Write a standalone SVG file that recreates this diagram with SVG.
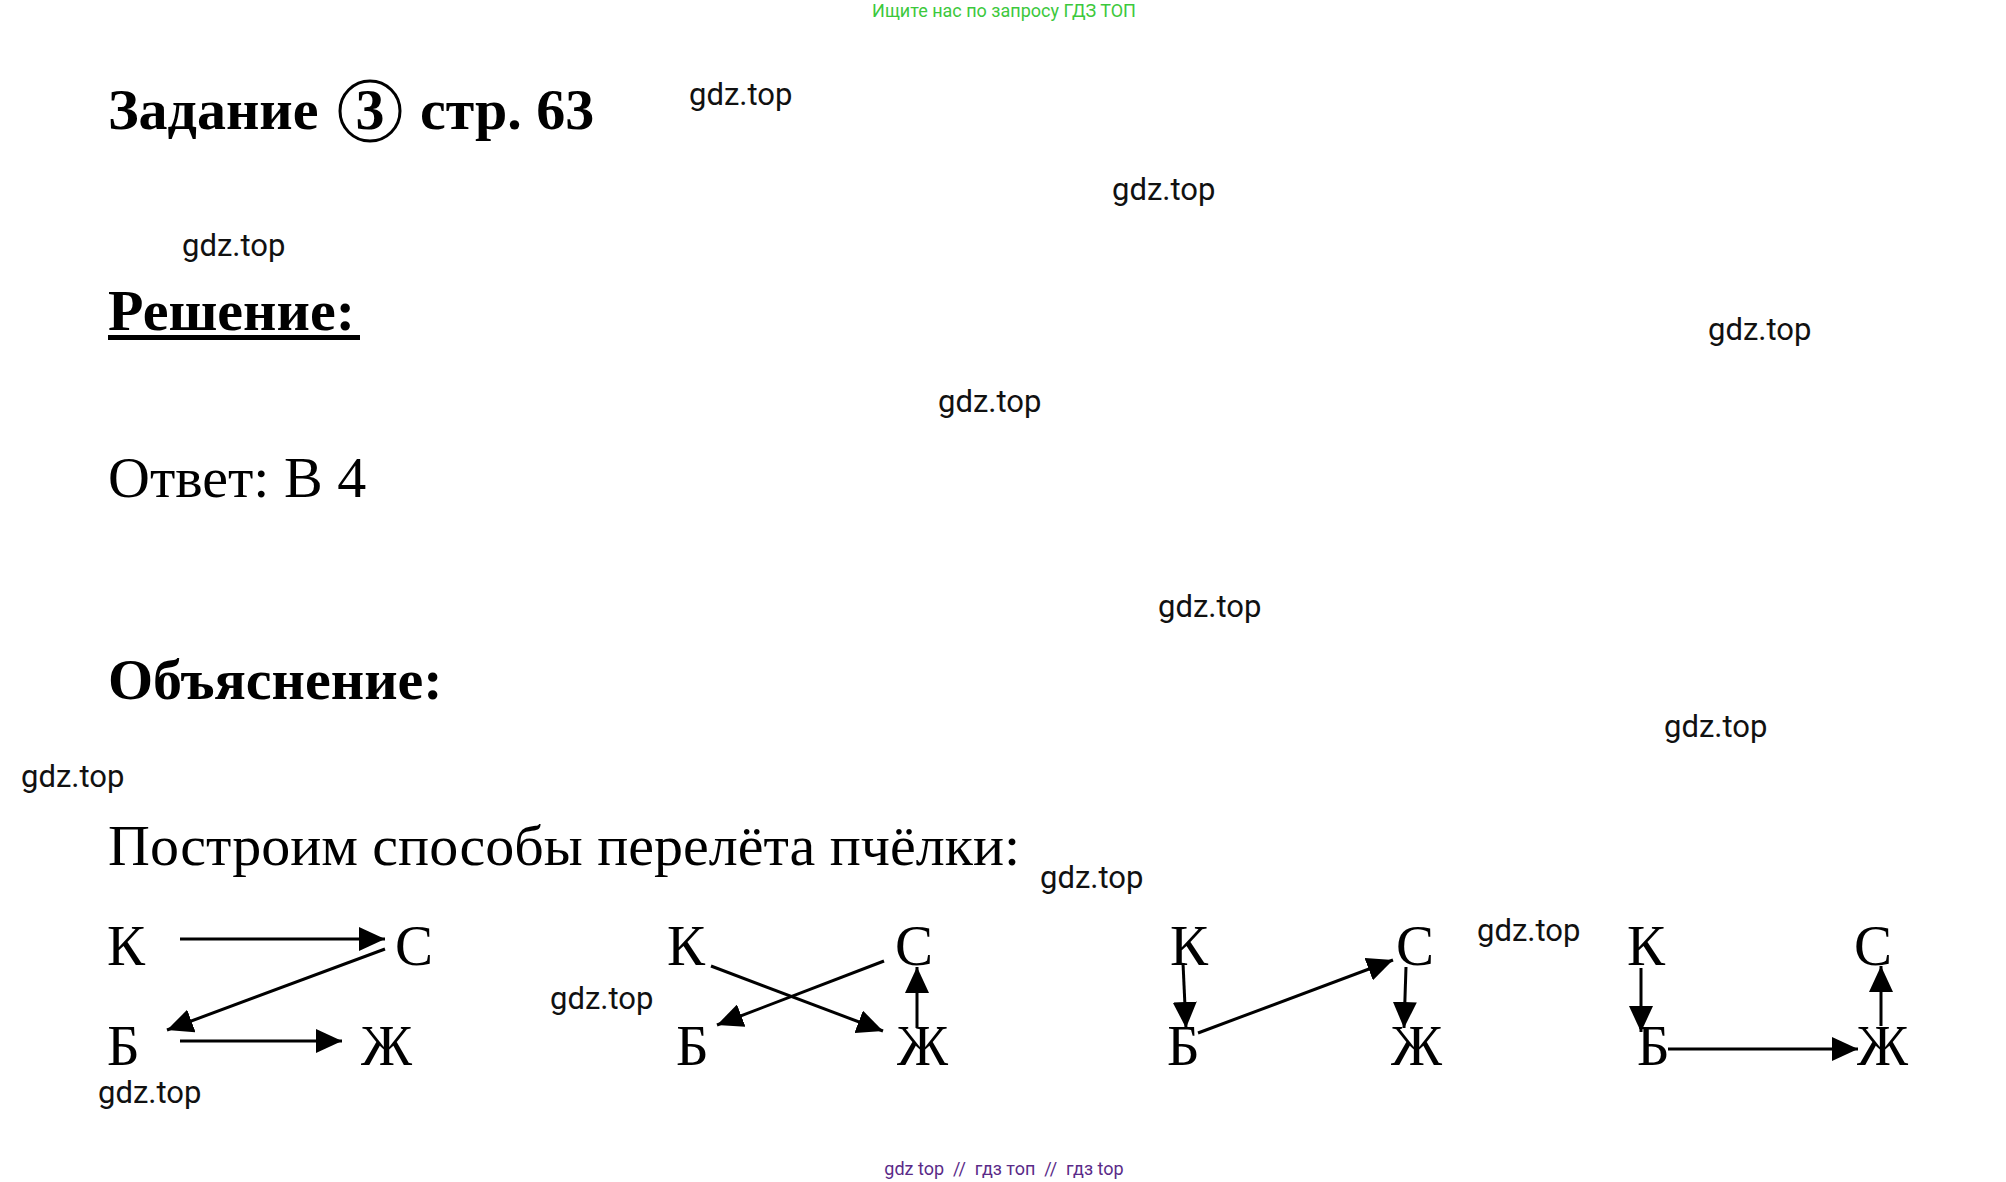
<svg xmlns="http://www.w3.org/2000/svg" width="2006" height="1182" viewBox="0 0 2006 1182">
<style>
.h{font-family:"Liberation Serif","Times New Roman",serif;font-weight:bold;font-size:58px;fill:#000}
.t{font-family:"Liberation Serif","Times New Roman",serif;font-size:58px;fill:#000}
.n{font-family:"Liberation Serif","Times New Roman",serif;font-size:57px;fill:#000}
.w{font-family:Roboto,"Liberation Sans",sans-serif;font-size:31px;fill:#111}
.e{stroke:#000;stroke-width:3;fill:none;marker-end:url(#ah)}
</style>
<defs>
<marker id="ah" viewBox="0 0 26 24" refX="26" refY="12" markerWidth="26" markerHeight="24" markerUnits="userSpaceOnUse" orient="auto">
<path d="M0,0 L26,12 L0,24 z" fill="#000"/>
</marker>
</defs>
<rect width="2006" height="1182" fill="#fff"/>
<text x="1004" y="17" text-anchor="middle" font-family="Roboto,'Liberation Sans',sans-serif" font-size="18" fill="#3cc83c">Ищите нас по запросу ГДЗ ТОП</text>
<g id="title">
<text class="h" x="108" y="129">Задание</text>
<circle cx="370" cy="111" r="30" fill="none" stroke="#000" stroke-width="3"/>
<text class="h" x="370" y="129" text-anchor="middle" font-size="52">3</text>
<text class="h" x="420" y="129">стр. 63</text>
</g>
<g id="solution">
<text class="h" x="108" y="330">Решение:</text>
<rect x="108" y="335" width="252" height="5" fill="#000"/>
</g>
<text class="t" x="108" y="497">Ответ: В 4</text>
<text class="h" x="108" y="699">Объяснение:</text>
<text class="t" x="108" y="865">Построим способы перелёта пчёлки:</text>
<g id="watermarks">
<text class="w" x="689" y="105">gdz.top</text>
<text class="w" x="1112" y="200">gdz.top</text>
<text class="w" x="182" y="256">gdz.top</text>
<text class="w" x="1708" y="340">gdz.top</text>
<text class="w" x="938" y="412">gdz.top</text>
<text class="w" x="1158" y="617">gdz.top</text>
<text class="w" x="1664" y="737">gdz.top</text>
<text class="w" x="21" y="787">gdz.top</text>
<text class="w" x="1040" y="888">gdz.top</text>
<text class="w" x="1477" y="941">gdz.top</text>
<text class="w" x="550" y="1009">gdz.top</text>
<text class="w" x="98" y="1103">gdz.top</text>
</g>
<g id="d1">
<text class="n" x="107" y="965">К</text>
<text class="n" x="395" y="965">С</text>
<text class="n" x="107" y="1065">Б</text>
<text class="n" x="361" y="1065">Ж</text>
</g>
<g id="d2">
<text class="n" x="667" y="965">К</text>
<text class="n" x="895" y="965">С</text>
<text class="n" x="676" y="1065">Б</text>
<text class="n" x="897" y="1065">Ж</text>
</g>
<g id="d3">
<text class="n" x="1170" y="965">К</text>
<text class="n" x="1396" y="965">С</text>
<text class="n" x="1167" y="1065">Б</text>
<text class="n" x="1391" y="1065">Ж</text>
</g>
<g id="d4">
<text class="n" x="1627" y="965">К</text>
<text class="n" x="1854" y="965">С</text>
<text class="n" x="1637" y="1065">Б</text>
<text class="n" x="1857" y="1065">Ж</text>
</g>
<g id="connectors">
<line class="e" x1="180" y1="939" x2="385" y2="939"/>
<line class="e" x1="385" y1="949" x2="167" y2="1030"/>
<line class="e" x1="180" y1="1041" x2="342" y2="1041"/>
<line class="e" x1="711" y1="966" x2="883" y2="1031"/>
<line class="e" x1="884" y1="961" x2="717" y2="1025"/>
<line class="e" x1="917" y1="1028" x2="917" y2="967"/>
<line class="e" x1="1183" y1="963" x2="1186" y2="1028"/>
<line class="e" x1="1198" y1="1033" x2="1393" y2="960"/>
<line class="e" x1="1406" y1="967" x2="1404" y2="1028"/>
<line class="e" x1="1641" y1="968" x2="1641" y2="1032"/>
<line class="e" x1="1668" y1="1049" x2="1858" y2="1049"/>
<line class="e" x1="1881" y1="1026" x2="1881" y2="966"/>
</g>
<text x="1004" y="1175" text-anchor="middle" font-family="Roboto,'Liberation Sans',sans-serif" font-size="18" fill="#5a2a88" style="white-space:pre">gdz top  //  гдз топ  //  гдз top</text>
</svg>
